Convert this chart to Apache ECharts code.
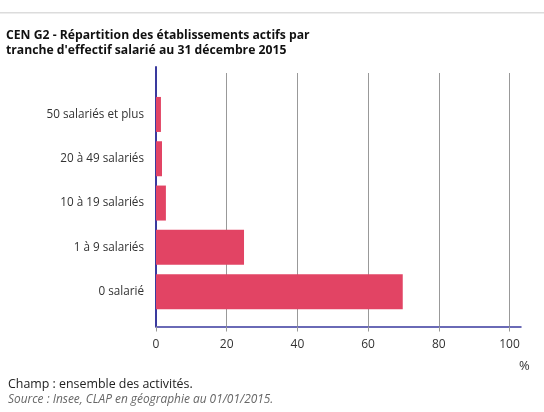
<!DOCTYPE html>
<html>
<head>
<meta charset="utf-8">
<script src="https://cdn.jsdelivr.net/npm/echarts@6/dist/echarts.min.js"></script>
<style>
  html, body { margin: 0; padding: 0; background: #fff; }
  #chart { width: 544px; height: 412px; }
</style>
</head>
<body>
<div id="chart"></div>
<script>
// tranches d'effectif (du haut vers le bas)
var categories = ["50 salariés et plus", "20 à 49 salariés", "10 à 19 salariés", "1 à 9 salariés", "0 salarié"];
// part des établissements actifs, en %
var values = [1.4, 1.7, 2.8, 24.9, 69.8];
var xTicks = [0, 20, 40, 60, 80, 100];

var FONT = "'Open Sans', 'Noto Sans', sans-serif";
var BLUE = "#3a3a9e";
var BAR = "#e24464";

var chart = echarts.init(document.getElementById("chart"), null, { renderer: "canvas" });

var option = {
  animation: false,
  backgroundColor: "#fff",
  title: {
    text: "CEN G2 - Répartition des établissements actifs par\ntranche d'effectif salarié au 31 décembre 2015",
    left: 6,
    top: 28,
    padding: 0,
    textStyle: {
      fontFamily: FONT,
      fontSize: 12.2,
      fontWeight: "bold",
      color: "#111",
      lineHeight: 15
    }
  },
  grid: [
    // grille des graduations
    { left: 156, top: 73, width: 353.5, height: 253.5 },
    // lignes d'axes bleues
    { left: 156, top: 67, width: 365, height: 259.5 },
    // barres
    { left: 156, top: 92.3, width: 353.5, height: 221.5 }
  ],
  xAxis: [
    {
      gridIndex: 0,
      type: "value",
      min: xTicks[0],
      max: xTicks[xTicks.length - 1],
      interval: 20,
      axisLine: { show: false },
      axisTick: { show: true, length: 5, lineStyle: { color: "#999" } },
      splitLine: { show: true, lineStyle: { color: "#999", width: 1 } },
      axisLabel: { margin: 12, fontFamily: FONT, fontSize: 12, color: "#333" }
    },
    {
      gridIndex: 1,
      type: "value",
      min: 0,
      max: 1,
      axisLine: { show: true, lineStyle: { color: BLUE, width: 1.5 } },
      axisTick: { show: false },
      axisLabel: { show: false },
      splitLine: { show: false }
    },
    {
      gridIndex: 2,
      type: "value",
      min: xTicks[0],
      max: xTicks[xTicks.length - 1],
      show: false
    }
  ],
  yAxis: [
    { gridIndex: 0, type: "value", show: false },
    {
      gridIndex: 1,
      type: "value",
      min: 0,
      max: 1,
      axisLine: { show: true, lineStyle: { color: BLUE, width: 2 } },
      axisTick: { show: false },
      axisLabel: { show: false },
      splitLine: { show: false }
    },
    {
      gridIndex: 2,
      type: "category",
      data: categories,
      inverse: true,
      axisLine: { show: false },
      axisTick: { show: false },
      axisLabel: { margin: 12, fontFamily: FONT, fontSize: 11.7, color: "#333" }
    }
  ],
  series: [
    {
      type: "bar",
      xAxisIndex: 2,
      yAxisIndex: 2,
      data: values,
      barWidth: 35,
      itemStyle: { color: BAR }
    }
  ],
  graphic: [
    {
      type: "rect",
      left: 0,
      top: 12,
      shape: { width: 544, height: 1.5 },
      style: { fill: "#dcdcdc" },
      silent: true
    },
    {
      type: "text",
      left: 519,
      top: 360,
      style: { text: "%", font: "13px " + FONT, fill: "#333" }
    },
    {
      type: "text",
      left: 8,
      top: 378,
      style: { text: "Champ : ensemble des activités.", font: "12.4px " + FONT, fill: "#222" }
    },
    {
      type: "text",
      left: 8,
      top: 394,
      style: { text: "Source : Insee, CLAP en géographie au 01/01/2015.", font: "italic 11.9px " + FONT, fill: "#666" }
    }
  ]
};

chart.setOption(option);
window.addEventListener("resize", function() {
  chart.resize();
});
</script>
</body>
</html>
